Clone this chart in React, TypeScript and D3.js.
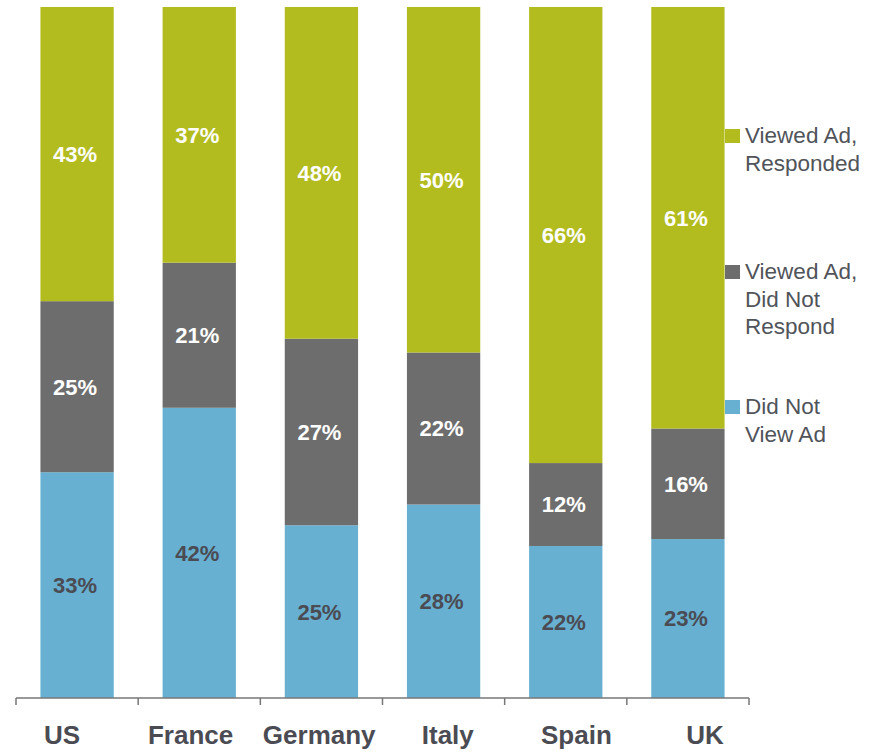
import * as d3 from "d3";

const categories = ["US", "France", "Germany", "Italy", "Spain", "UK"];
const didNotView = [33, 42, 25, 28, 22, 23];
const viewedNoResponse = [25, 21, 27, 22, 12, 16];
const viewedResponded = [43, 37, 48, 50, 66, 61];

const seriesKeys = ["didNotView", "viewedNoResponse", "viewedResponded"] as const;
const seriesColors = ["#67b0d1", "#6d6d6d", "#b3bc1e"];
const labelColors = ["#4b4b53", "#ffffff", "#ffffff"];

const legendItems = [
  { lines: ["Viewed Ad,", "Responded"], color: "#b3bc1e" },
  { lines: ["Viewed Ad,", "Did Not", "Respond"], color: "#6d6d6d" },
  { lines: ["Did Not", "View Ad"], color: "#67b0d1" },
];

const width = 882;
const height = 753;
const plot = { left: 16, right: 749, top: 7, bottom: 698 };

export default function App() {
  const rows = categories.map((name, i) => ({
    name,
    didNotView: didNotView[i],
    viewedNoResponse: viewedNoResponse[i],
    viewedResponded: viewedResponded[i],
  }));

  const stacked = d3
    .stack<(typeof rows)[number]>()
    .keys(seriesKeys as unknown as string[])
    .offset(d3.stackOffsetExpand)(rows);

  const x = d3
    .scaleBand()
    .domain(categories)
    .range([plot.left, plot.right])
    .paddingInner(0.4)
    .paddingOuter(0.2);

  // category names sit on their own (slightly wider) spacing, like the original slide
  const xLabel = d3.scalePoint().domain(categories).range([62, 705]);

  const y = d3.scaleLinear().domain([0, 1]).range([plot.bottom, plot.top]);

  const step = x.step();
  const tickXs = d3.range(categories.length + 1).map((i) => plot.left + i * step);

  const legendTops = [129, 265, 400];

  return (
    <svg
      width={width}
      height={height}
      style={{ position: "absolute", left: 0, top: 0, display: "block" }}
      fontFamily="'Liberation Sans', Arial, sans-serif"
    >
      {/* bars */}
      {stacked.map((layer, li) => (
        <g key={layer.key}>
          {layer.map((d, i) => {
            const x0 = x(categories[i]) ?? 0;
            const y0 = y(d[0]);
            const y1 = y(d[1]);
            return (
              <g key={categories[i]}>
                <rect
                  x={x0}
                  y={y1}
                  width={x.bandwidth()}
                  height={y0 - y1}
                  fill={seriesColors[li]}
                />
                <text
                  x={x0 + x.bandwidth() / 2 - 2}
                  y={(y0 + y1) / 2}
                  dy="0.36em"
                  textAnchor="middle"
                  fontWeight="bold"
                  fontSize={22}
                  fill={labelColors[li]}
                >
                  {`${rows[i][layer.key as keyof (typeof rows)[number]]}%`}
                </text>
              </g>
            );
          })}
        </g>
      ))}

      {/* axis */}
      <line
        x1={plot.left}
        x2={plot.right}
        y1={plot.bottom}
        y2={plot.bottom}
        stroke="#777"
        strokeWidth={1.5}
      />
      {tickXs.map((tx, i) => (
        <line
          key={i}
          x1={tx}
          x2={tx}
          y1={plot.bottom}
          y2={plot.bottom + 7}
          stroke="#777"
          strokeWidth={1.5}
        />
      ))}
      {categories.map((c) => (
        <text
          key={c}
          x={xLabel(c) ?? 0}
          y={744}
          textAnchor="middle"
          fontWeight="bold"
          fontSize={26}
          fill="#4b4b53"
        >
          {c}
        </text>
      ))}

      {/* legend */}
      {legendItems.map((item, i) => (
        <g key={i}>
          <rect x={725} y={legendTops[i]} width={15} height={14} fill={item.color} />
          {item.lines.map((line, j) => (
            <text
              key={j}
              x={745}
              y={legendTops[i] + 14 + j * 27.5}
              fontSize={22.5}
              fill="#50545a"
            >
              {line}
            </text>
          ))}
        </g>
      ))}
    </svg>
  );
}
